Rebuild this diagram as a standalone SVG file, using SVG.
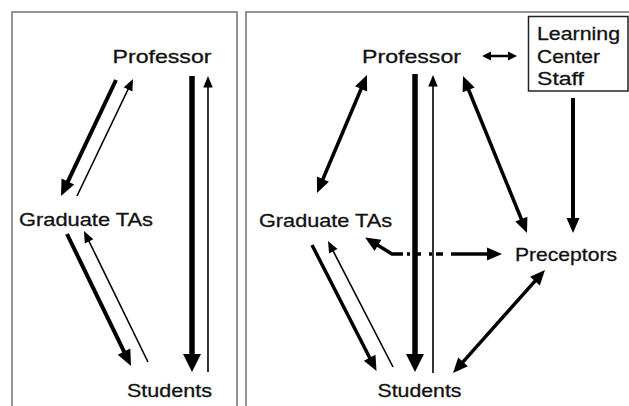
<svg xmlns="http://www.w3.org/2000/svg" width="629" height="406" viewBox="0 0 629 406">
<style>
.lbl{font-family:"Liberation Sans",Arial,sans-serif;font-size:19px;fill:#111;stroke:#111;stroke-width:0.3}
.panel{fill:none;stroke:#7a7a7a;stroke-width:1.6}
.ln{fill:none;stroke:#000;stroke-linecap:butt}
.xl{stroke-width:5.5}
.th{stroke-width:4}
.md{stroke-width:3.5}
.tn{stroke-width:1.6}
</style>
<defs>
<marker id="hx" markerUnits="userSpaceOnUse" markerWidth="22" markerHeight="22" refX="1" refY="9" orient="auto-start-reverse" overflow="visible"><path d="M0,0 L18,9 L0,18 z" fill="#000"/></marker>
<marker id="ht" markerUnits="userSpaceOnUse" markerWidth="18" markerHeight="18" refX="2" refY="7" orient="auto-start-reverse" overflow="visible"><path d="M0,0 L16,7 L0,14 z" fill="#000"/></marker>
<marker id="hm" markerUnits="userSpaceOnUse" markerWidth="18" markerHeight="18" refX="2" refY="6.5" orient="auto-start-reverse" overflow="visible"><path d="M0,0 L15,6.5 L0,13 z" fill="#000"/></marker>
<marker id="hn" markerUnits="userSpaceOnUse" markerWidth="14" markerHeight="14" refX="1.5" refY="4.75" orient="auto-start-reverse" overflow="visible"><path d="M0,0 L11.5,4.75 L0,9.5 z" fill="#000"/></marker>
<marker id="hs" markerUnits="userSpaceOnUse" markerWidth="12" markerHeight="12" refX="1" refY="4.5" orient="auto-start-reverse" overflow="visible"><path d="M0,0 L9,4.5 L0,9 z" fill="#000"/></marker>
</defs>
<rect x="0" y="0" width="629" height="406" fill="#fff"/>
<rect class="panel" x="12" y="12" width="225" height="410"/>
<rect class="panel" x="246" y="12" width="400" height="410"/>

<g id="connectors">
  <!-- left panel -->
  <line class="ln th" x1="116" y1="80" x2="67" y2="183.4" marker-end="url(#ht)"/>
  <line class="ln tn" x1="77" y1="196" x2="128.7" y2="88" marker-end="url(#hn)"/>
  <line class="ln th" x1="67" y1="234" x2="124.9" y2="353.4" marker-end="url(#ht)"/>
  <line class="ln tn" x1="148" y1="362" x2="88.4" y2="240" marker-end="url(#hn)"/>
  <line class="ln xl" x1="192" y1="76" x2="192" y2="355" marker-end="url(#hx)"/>
  <line class="ln tn" x1="208" y1="372" x2="208" y2="86" marker-end="url(#hn)"/>
  <!-- right panel -->
  <line class="ln md" x1="361.9" y1="87" x2="322.1" y2="181" marker-start="url(#hm)" marker-end="url(#hm)"/>
  <line class="ln xl" x1="415" y1="74" x2="415" y2="355" marker-end="url(#hx)"/>
  <line class="ln tn" x1="433" y1="373" x2="433" y2="85" marker-end="url(#hn)"/>
  <line class="ln md" x1="467.9" y1="88" x2="522.1" y2="221" marker-start="url(#hm)" marker-end="url(#hm)"/>
  <line class="ln th" x1="573" y1="98" x2="573" y2="220" marker-end="url(#hm)"/>
  <line class="ln" stroke-width="2.5" x1="490" y1="56" x2="509" y2="56" marker-start="url(#hs)" marker-end="url(#hs)"/>
  <line class="ln md" x1="312" y1="245" x2="370.6" y2="359.5" marker-end="url(#hm)"/>
  <line class="ln tn" x1="393" y1="367" x2="332.6" y2="249.9" marker-end="url(#hn)"/>
  <line class="ln md" x1="536.3" y1="279.7" x2="461.7" y2="363.3" marker-start="url(#hm)" marker-end="url(#hm)"/>
  <path class="ln md" d="M403,254 L392,254 L376.2,244.3" stroke-linejoin="miter" marker-end="url(#hm)"/>
  <path class="ln md" d="M403,254 L451,254" stroke-dasharray="0 4 3 4 7 4"/>
  <path class="ln md" d="M451,254 L489,254" marker-end="url(#hm)"/>
</g>

<g id="left-professor"><text class="lbl" x="112.5" y="62.5" textLength="99" lengthAdjust="spacingAndGlyphs">Professor</text></g>
<g id="left-graduate-tas"><text class="lbl" x="19" y="226" textLength="134" lengthAdjust="spacingAndGlyphs">Graduate TAs</text></g>
<g id="left-students"><text class="lbl" x="127" y="397" textLength="85" lengthAdjust="spacingAndGlyphs">Students</text></g>

<g id="right-professor"><text class="lbl" x="362" y="62.5" textLength="99" lengthAdjust="spacingAndGlyphs">Professor</text></g>
<g id="learning-center-staff">
  <rect x="528.5" y="16.5" width="99.5" height="74.5" fill="#fff" stroke="#222" stroke-width="1.5"/>
  <text class="lbl" x="537" y="40" textLength="83" lengthAdjust="spacingAndGlyphs">Learning</text>
  <text class="lbl" x="537" y="62.5" textLength="63" lengthAdjust="spacingAndGlyphs">Center</text>
  <text class="lbl" x="537" y="85" textLength="47" lengthAdjust="spacingAndGlyphs">Staff</text>
</g>
<g id="right-graduate-tas"><text class="lbl" x="259" y="226.5" textLength="133" lengthAdjust="spacingAndGlyphs">Graduate TAs</text></g>
<g id="preceptors"><text class="lbl" x="515" y="261" textLength="102" lengthAdjust="spacingAndGlyphs">Preceptors</text></g>
<g id="right-students"><text class="lbl" x="377.5" y="397" textLength="84" lengthAdjust="spacingAndGlyphs">Students</text></g>
</svg>
